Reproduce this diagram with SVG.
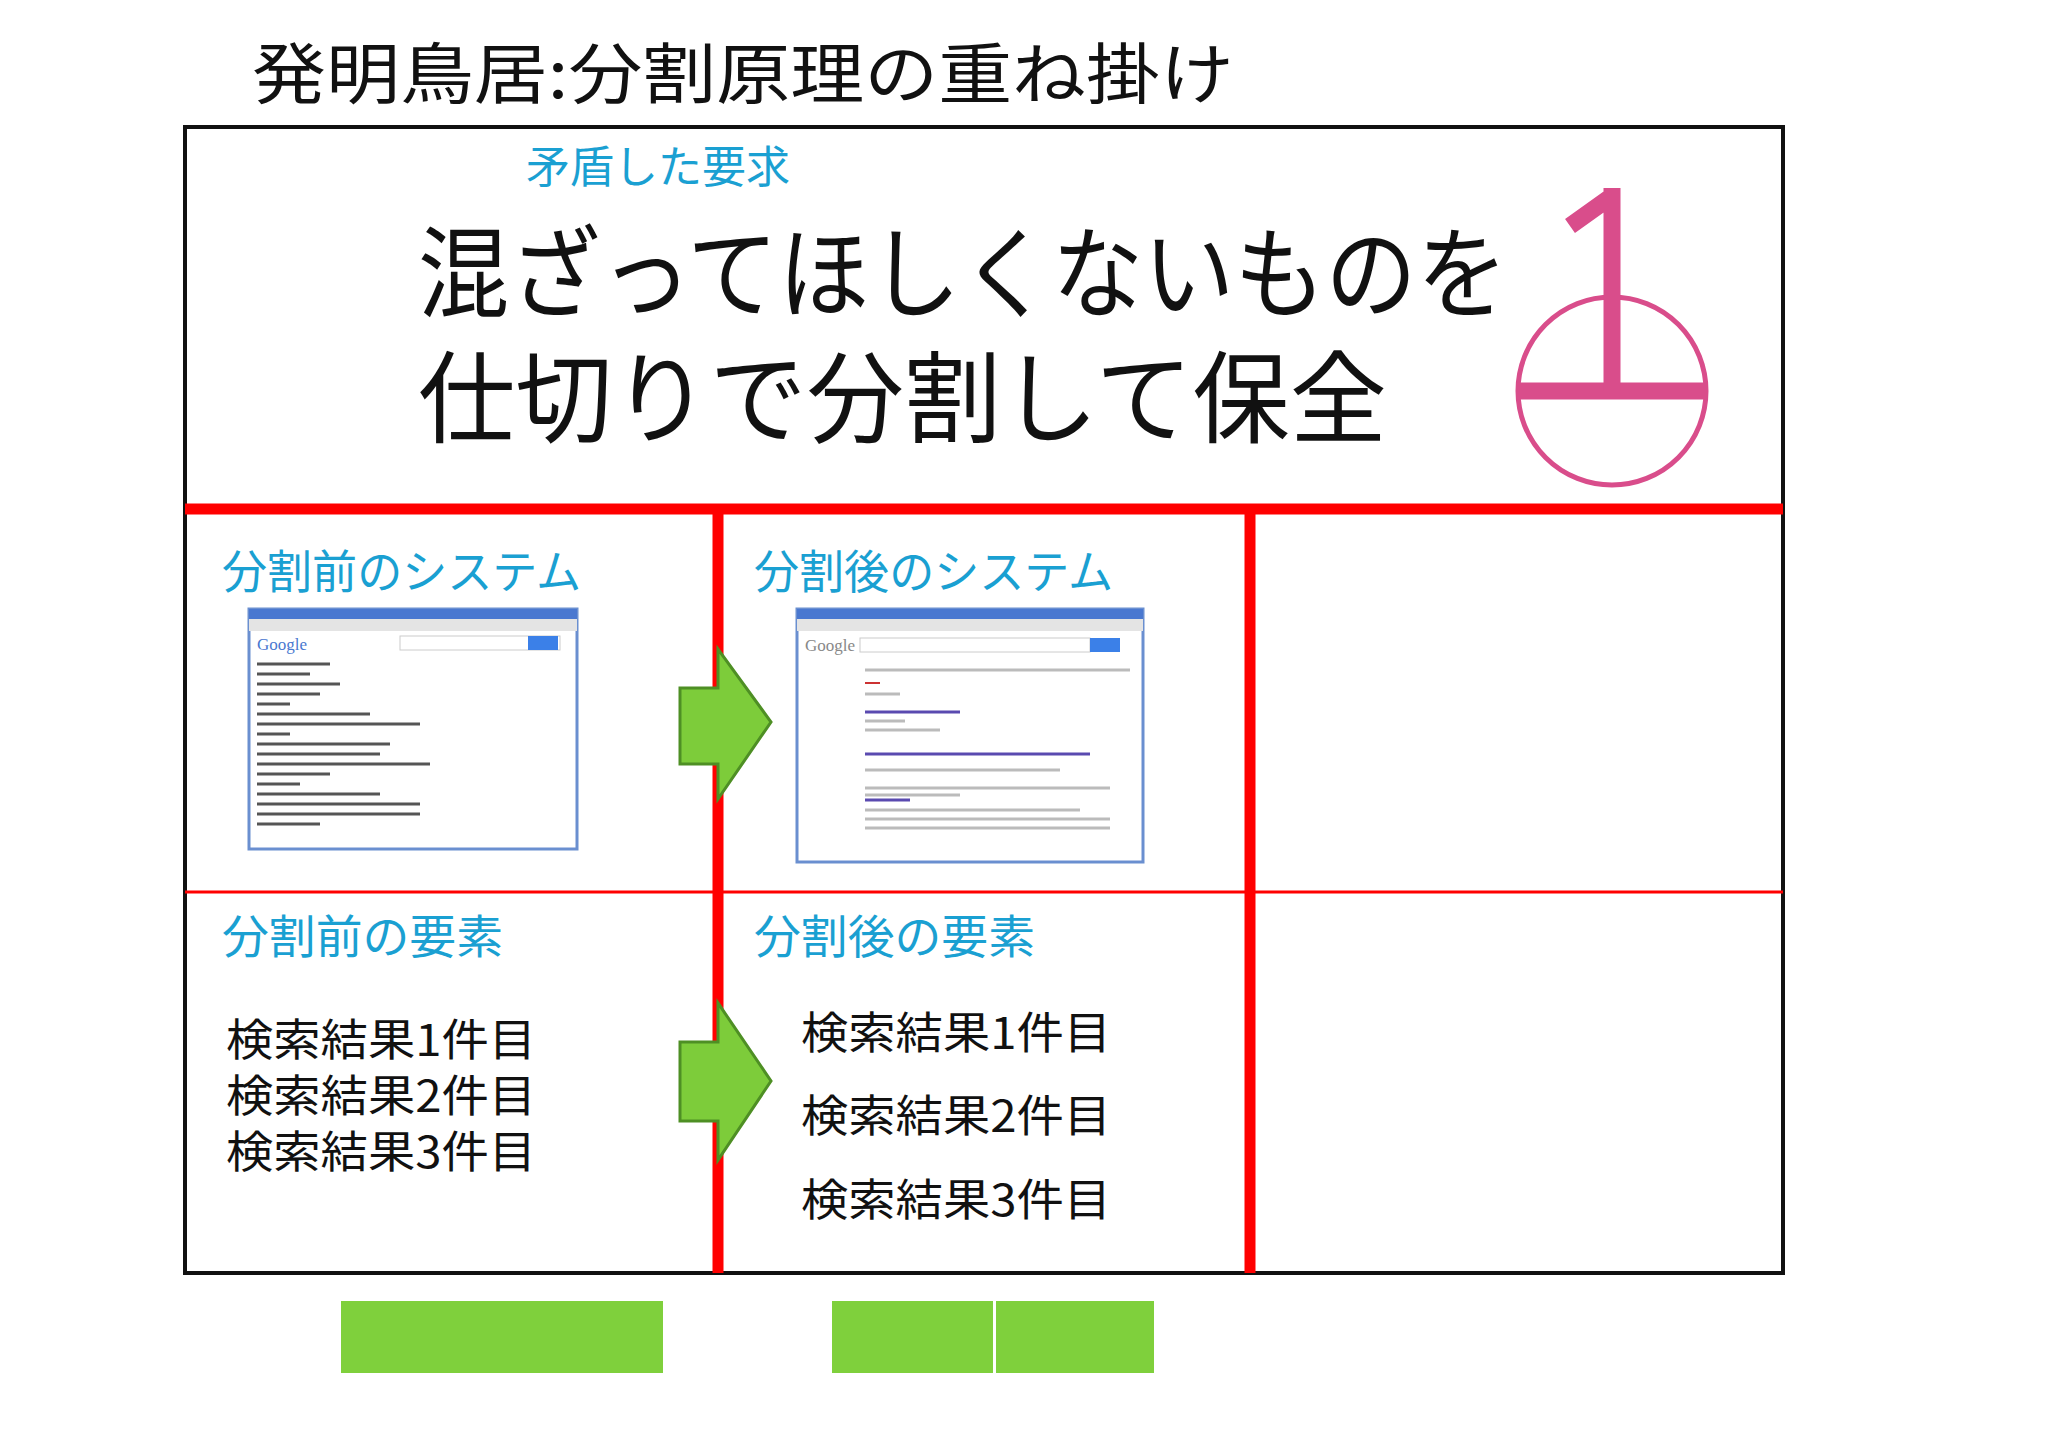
<svg xmlns="http://www.w3.org/2000/svg" width="2048" height="1447" viewBox="0 0 2048 1447">
<style>
text{font-family:"Noto Sans CJK JP","Noto Sans",sans-serif}
.c{fill:#1aa0d2;font-size:46px}
.k{fill:#111;font-size:44px}
.rl{stroke:#f00}
.ar{fill:#7dcc3a;stroke:#4e8f24;stroke-width:3}
.g{fill:#7fd03c}
.sl{stroke:#555;stroke-width:3}
.sl2{stroke:#bbb;stroke-width:3}
</style>
<rect width="2048" height="1447" fill="#fff"/>
<text x="252" y="98" style="font-size:66px;fill:#111" textLength="982" lengthAdjust="spacingAndGlyphs">発明鳥居:分割原理の重ね掛け</text>
<g id="frame"><rect x="185" y="127" width="1598" height="1146" fill="none" stroke="#111" stroke-width="4"/></g>
<g id="header">
<text x="526" y="183" class="c" style="font-size:44px">矛盾した要求</text>
<text x="418" y="310" style="font-size:100px;fill:#111" textLength="1090" lengthAdjust="spacingAndGlyphs">混ざってほしくないものを</text>
<text x="418" y="435" style="font-size:100px;fill:#111" textLength="969" lengthAdjust="spacingAndGlyphs">仕切りで分割して保全</text>
<g id="symbol" fill="none" stroke="#d94d8b">
<circle cx="1612" cy="391" r="94" stroke-width="5"/>
<line x1="1517" y1="391" x2="1707" y2="391" stroke-width="17"/>
<path d="M1612 391 V 188 M1612 196 L1570 226" stroke-width="17"/>
</g>
</g>
<g id="grid">
<line class="rl" x1="185" y1="509" x2="1783" y2="509" stroke-width="11"/>
<line class="rl" x1="185" y1="892" x2="1783" y2="892" stroke-width="3"/>
<line class="rl" x1="718" y1="509" x2="718" y2="1273" stroke-width="11"/>
<line class="rl" x1="1250" y1="509" x2="1250" y2="1273" stroke-width="11"/>
</g>
<g id="before-system">
<text x="222" y="588" class="c" textLength="359" lengthAdjust="spacingAndGlyphs">分割前のシステム</text>
<rect x="249" y="609" width="328" height="240" fill="#fff" stroke="#6a8fd0" stroke-width="3"/>
<rect x="249" y="609" width="328" height="10" fill="#4a78d0"/>
<rect x="249" y="619" width="328" height="12" fill="#e4e4e4"/>
<text x="257" y="650" style="font-size:17px;fill:#4a78d0;font-family:'Liberation Serif',serif">Google</text>
<rect x="400" y="636" width="160" height="14" fill="#fff" stroke="#ccc"/><rect x="528" y="636" width="30" height="14" fill="#3b80e8"/>
<g class="sl"><line x1="257" y1="664" x2="330" y2="664"/><line x1="257" y1="674" x2="310" y2="674"/><line x1="257" y1="684" x2="340" y2="684"/><line x1="257" y1="694" x2="320" y2="694"/><line x1="257" y1="704" x2="290" y2="704"/><line x1="257" y1="714" x2="370" y2="714"/><line x1="257" y1="724" x2="420" y2="724"/><line x1="257" y1="734" x2="290" y2="734"/><line x1="257" y1="744" x2="390" y2="744"/><line x1="257" y1="754" x2="380" y2="754"/><line x1="257" y1="764" x2="430" y2="764"/><line x1="257" y1="774" x2="330" y2="774"/><line x1="257" y1="784" x2="300" y2="784"/><line x1="257" y1="794" x2="380" y2="794"/><line x1="257" y1="804" x2="420" y2="804"/><line x1="257" y1="814" x2="420" y2="814"/><line x1="257" y1="824" x2="320" y2="824"/></g>
</g>
<g id="after-system">
<text x="754" y="588" class="c" textLength="359" lengthAdjust="spacingAndGlyphs">分割後のシステム</text>
<rect x="797" y="609" width="346" height="253" fill="#fff" stroke="#6a8fd0" stroke-width="3"/>
<rect x="797" y="609" width="346" height="10" fill="#4a78d0"/>
<rect x="797" y="619" width="346" height="12" fill="#e4e4e4"/>
<text x="805" y="651" style="font-size:17px;fill:#888;font-family:'Liberation Serif',serif">Google</text>
<rect x="860" y="638" width="230" height="14" fill="#fff" stroke="#ccc"/><rect x="1090" y="638" width="30" height="14" fill="#3b80e8"/>
<line x1="865" y1="683" x2="880" y2="683" stroke="#c33" stroke-width="2"/>
<g class="sl2"><line x1="865" y1="670" x2="1130" y2="670"/><line x1="865" y1="694" x2="900" y2="694"/><line x1="865" y1="721" x2="905" y2="721"/><line x1="865" y1="730" x2="940" y2="730"/><line x1="865" y1="770" x2="1060" y2="770"/><line x1="865" y1="788" x2="1110" y2="788"/><line x1="865" y1="795" x2="960" y2="795"/><line x1="865" y1="810" x2="1080" y2="810"/><line x1="865" y1="819" x2="1110" y2="819"/><line x1="865" y1="828" x2="1110" y2="828"/></g>
<g stroke="#5a4ab0" stroke-width="3"><line x1="865" y1="712" x2="960" y2="712"/><line x1="865" y1="754" x2="1090" y2="754"/><line x1="865" y1="800" x2="910" y2="800"/></g>
</g>
<g id="before-elements">
<text x="222" y="953" class="c" textLength="281" lengthAdjust="spacingAndGlyphs">分割前の要素</text>
<text x="226" y="1056" class="k" textLength="310" lengthAdjust="spacingAndGlyphs">検索結果1件目</text>
<text x="226" y="1112" class="k" textLength="310" lengthAdjust="spacingAndGlyphs">検索結果2件目</text>
<text x="226" y="1168" class="k" textLength="310" lengthAdjust="spacingAndGlyphs">検索結果3件目</text>
</g>
<g id="after-elements">
<text x="754" y="953" class="c" textLength="281" lengthAdjust="spacingAndGlyphs">分割後の要素</text>
<text x="801" y="1049" class="k" textLength="310" lengthAdjust="spacingAndGlyphs">検索結果1件目</text>
<text x="801" y="1132" class="k" textLength="310" lengthAdjust="spacingAndGlyphs">検索結果2件目</text>
<text x="801" y="1216" class="k" textLength="310" lengthAdjust="spacingAndGlyphs">検索結果3件目</text>
</g>
<g id="connectors">
<path class="ar" d="M680 688 H718 V649 L771 722 L718 799 V764 H680 Z"/>
<path class="ar" d="M680 1042 H718 V1003 L771 1081 L718 1160 V1121 H680 Z"/>
</g>
<g id="bars">
<rect class="g" x="341" y="1301" width="322" height="72"/>
<rect class="g" x="832" y="1301" width="161" height="72"/>
<rect class="g" x="996" y="1301" width="158" height="72"/>
</g>
</svg>
